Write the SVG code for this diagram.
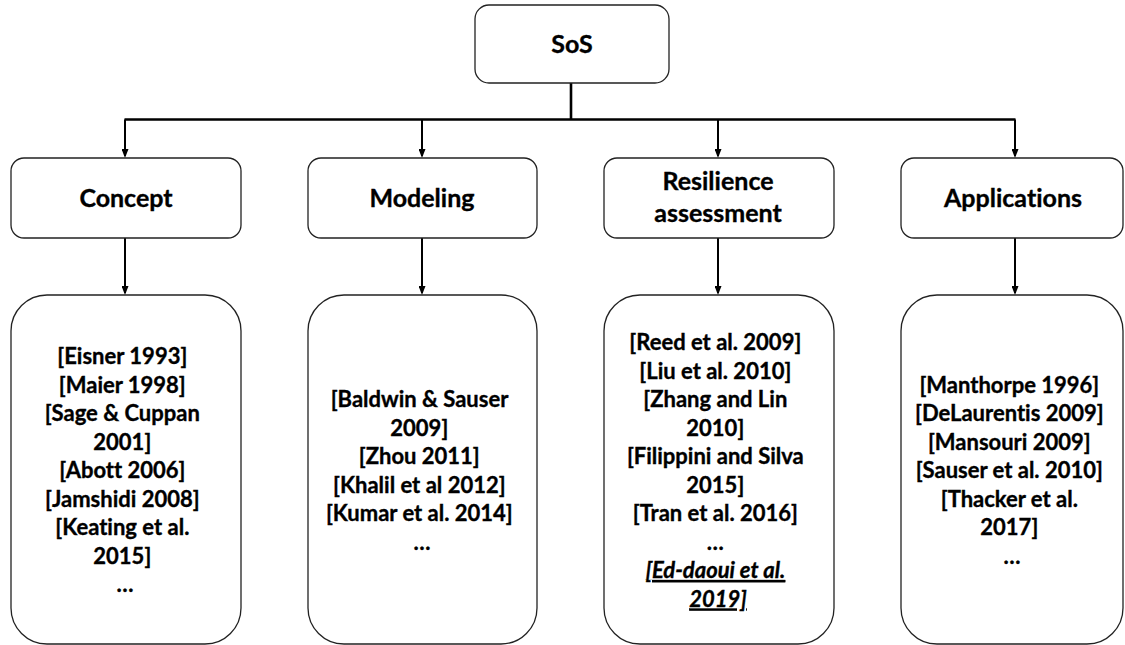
<svg xmlns="http://www.w3.org/2000/svg" width="1125" height="645" viewBox="0 0 1125 645">
<style>
.box{fill:#fff;stroke:#222;stroke-width:1.3}
.t{font-family:Lato,"Liberation Sans",sans-serif;font-weight:700;fill:#000;stroke:#000;stroke-width:0.35;text-anchor:middle;font-variant-ligatures:none;font-feature-settings:"liga" 0}
.h{font-size:25px}
.s{font-size:22px}
.c{fill:none;stroke:#000;stroke-width:2}
.ct{fill:none;stroke:#000;stroke-width:2.6}
.u{font-style:italic;text-decoration:underline}
</style>
<defs>
<marker id="ah" markerUnits="userSpaceOnUse" viewBox="0 0 9 7" markerWidth="9" markerHeight="7" refX="7" refY="3.5" orient="auto">
<path d="M0,0 L9,3.5 L0,7 z" fill="#000"/>
</marker>
</defs>
<rect width="1125" height="645" fill="#fff"/>
<g id="connectors">
<path class="ct" d="M571,83 V119.5 M124.5,119.5 H1015.5"/>
<line class="c" x1="125" y1="119.5" x2="125" y2="156" marker-end="url(#ah)"/>
<line class="c" x1="422" y1="119.5" x2="422" y2="156" marker-end="url(#ah)"/>
<line class="c" x1="718" y1="119.5" x2="718" y2="156" marker-end="url(#ah)"/>
<line class="c" x1="1015" y1="119.5" x2="1015" y2="156" marker-end="url(#ah)"/>
<line class="c" x1="125" y1="238" x2="125" y2="293" marker-end="url(#ah)"/>
<line class="c" x1="422" y1="238" x2="422" y2="293" marker-end="url(#ah)"/>
<line class="c" x1="718" y1="238" x2="718" y2="293" marker-end="url(#ah)"/>
<line class="c" x1="1015" y1="238" x2="1015" y2="293" marker-end="url(#ah)"/>
</g>
<g id="sos">
<rect class="box" x="475" y="5" width="194" height="78" rx="14"/>
<text class="t h" x="572" y="53">SoS</text>
</g>
<g id="concept">
<rect class="box" x="11" y="158" width="230" height="80" rx="13"/>
<text class="t h" x="126" y="207">Concept</text>
</g>
<g id="modeling">
<rect class="box" x="308" y="158" width="229" height="80" rx="13"/>
<text class="t h" x="422" y="207">Modeling</text>
</g>
<g id="resilience">
<rect class="box" x="604" y="158" width="230" height="80" rx="13"/>
<text class="t h" x="718" y="190">Resilience</text>
<text class="t h" x="718" y="222">assessment</text>
</g>
<g id="applications">
<rect class="box" x="901" y="158" width="222" height="80" rx="13"/>
<text class="t h" x="1013" y="207">Applications</text>
</g>
<g id="concept-refs">
<rect class="box" x="11" y="295" width="230" height="349" rx="36"/>
<text class="t s" x="125">
<tspan x="125" y="364">[Eisner 1993]</tspan>
<tspan x="125" y="392.5">[Maier 1998]</tspan>
<tspan x="125" y="421">[Sage &amp; Cuppan</tspan>
<tspan x="125" y="449.5">2001]</tspan>
<tspan x="125" y="478">[Abott 2006]</tspan>
<tspan x="125" y="506.5">[Jamshidi 2008]</tspan>
<tspan x="125" y="535">[Keating et al.</tspan>
<tspan x="125" y="563.5">2015]</tspan>
<tspan x="125" y="592">…</tspan>
</text>
</g>
<g id="modeling-refs">
<rect class="box" x="308" y="295" width="229" height="349" rx="36"/>
<text class="t s" x="422">
<tspan x="422" y="407">[Baldwin &amp; Sauser</tspan>
<tspan x="422" y="435.5">2009]</tspan>
<tspan x="422" y="464">[Zhou 2011]</tspan>
<tspan x="422" y="492.5">[Khalil et al 2012]</tspan>
<tspan x="422" y="521">[Kumar et al. 2014]</tspan>
<tspan x="422" y="549.5">…</tspan>
</text>
</g>
<g id="resilience-refs">
<rect class="box" x="604" y="295" width="230" height="349" rx="36"/>
<text class="t s" x="718">
<tspan x="718" y="350">[Reed et al. 2009]</tspan>
<tspan x="718" y="378.5">[Liu et al. 2010]</tspan>
<tspan x="718" y="407">[Zhang and Lin</tspan>
<tspan x="718" y="435.5">2010]</tspan>
<tspan x="718" y="464">[Filippini and Silva</tspan>
<tspan x="718" y="492.5">2015]</tspan>
<tspan x="718" y="521">[Tran et al. 2016]</tspan>
<tspan x="718" y="549.5">…</tspan>
<tspan class="u" x="718" y="578">[Ed-daoui et al.</tspan>
<tspan class="u" x="718" y="606.5">2019]</tspan>
</text>
</g>
<g id="applications-refs">
<rect class="box" x="901" y="295" width="222" height="349" rx="36"/>
<text class="t s" x="1012">
<tspan x="1012" y="392.5">[Manthorpe 1996]</tspan>
<tspan x="1012" y="421">[DeLaurentis 2009]</tspan>
<tspan x="1012" y="449.5">[Mansouri 2009]</tspan>
<tspan x="1012" y="478">[Sauser et al. 2010]</tspan>
<tspan x="1012" y="506.5">[Thacker et al.</tspan>
<tspan x="1012" y="535">2017]</tspan>
<tspan x="1012" y="563.5">…</tspan>
</text>
</g>
</svg>
